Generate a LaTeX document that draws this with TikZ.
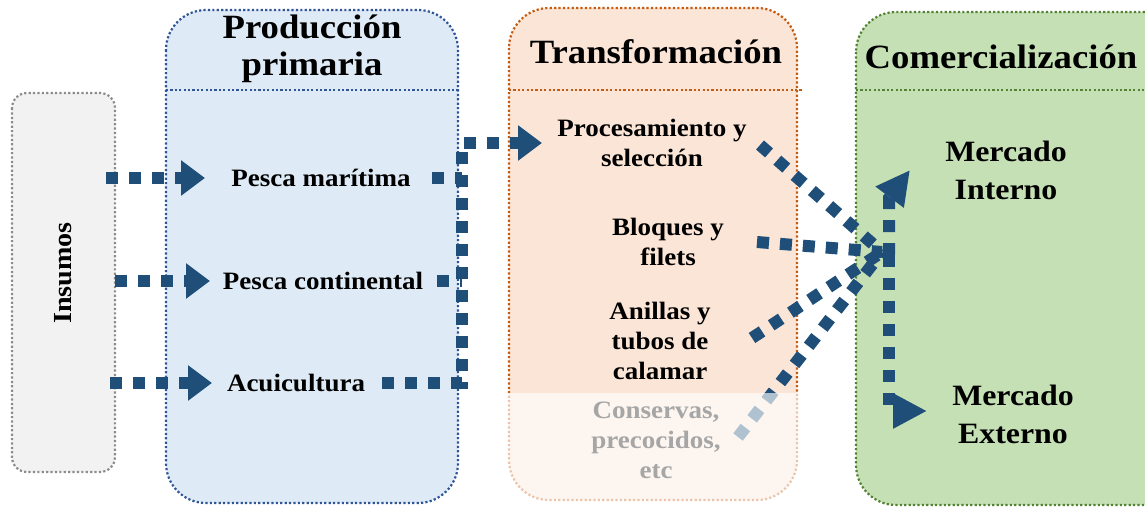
\documentclass[tikz,border=0pt]{standalone}
\usepackage{fontspec}
\setmainfont{Liberation Serif}[FakeStretch=1.08]
\usetikzlibrary{arrows.meta}
\definecolor{bfill}{HTML}{DEEBF7}
\definecolor{bline}{HTML}{2F5597}
\definecolor{ofill}{HTML}{FBE5D6}
\definecolor{oline}{HTML}{C55A11}
\definecolor{gfill}{HTML}{C5E0B4}
\definecolor{gline}{HTML}{548235}
\definecolor{sfill}{HTML}{F2F2F2}
\definecolor{sline}{HTML}{8C8C8C}
\definecolor{arrowc}{HTML}{1F4E79}
\tikzset{
  border/.style={line width=2.2pt, dash pattern=on 2.2pt off 2.2pt},
  arr/.style={line width=12pt, dash pattern=on 12pt off 11pt, draw=arrowc},
  tipS/.style={-{Triangle[length=24pt,width=34pt]}},
  tipL/.style={-{Triangle[length=34pt,width=33pt]}},
  head/.style={font=\bfseries\fontsize{34}{37}\selectfont, align=center, inner sep=0pt},
  item/.style={font=\bfseries\fontsize{25}{30}\selectfont, align=center, inner sep=0pt},
  market/.style={font=\bfseries\fontsize{29.5}{38}\selectfont, align=center, inner sep=0pt},
}
\begin{document}
\begin{tikzpicture}[x=1pt,y=-1pt]
\useasboundingbox (0,0) rectangle (1145,507);
\clip (0,0) rectangle (1145,507);
% boxes
\draw[border, draw=sline, fill=sfill, rounded corners=15pt] (12,93) rectangle (115,472);
\draw[border, draw=bline, fill=bfill, rounded corners=40pt] (166,10) rectangle (458,503);
\draw[border, draw=bline] (166,90) -- (460,90);
\draw[border, draw=oline, fill=ofill, rounded corners=40pt] (509,8) rectangle (797,500);
\draw[border, draw=oline] (509,90) -- (802,90);
\draw[border, draw=gline, fill=gfill, rounded corners=40pt] (856,12) rectangle (1200,505);
\draw[border, draw=gline] (856,90) -- (1145,90);
% headings
\node[head] (hpp) at (312,49) {Producción\\primaria};
\node[head] (htr) at (656,52) {Transformación};
\node[head] (hco) at (1001,57) {Comercialización};
\node[font=\bfseries\fontsize{26}{30}\selectfont, rotate=90, inner sep=0pt] (ins) at (63,273) {Insumos};
% items
\node[item] (pm) at (321,178) {Pesca marítima};
\node[item] (pc) at (323,281) {Pesca continental};
\node[item] (acu) at (296,383) {Acuicultura};
\node[item] (proc) at (652,143) {Procesamiento y\\selección};
\node[item] (blo) at (668,242) {Bloques y\\filets};
\node[item] (ani) at (660,341) {Anillas y\\tubos de\\calamar};
\node[item] (con) at (656,440) {Conservas,\\precocidos,\\etc};
\node[market] (mi) at (1006,170) {Mercado\\Interno};
\node[market] (me) at (1013,414) {Mercado\\Externo};
% coordinates
\coordinate (s1) at (106,178); \coordinate (e1) at (205,178);
\coordinate (s2) at (115,281); \coordinate (e2) at (210,281);
\coordinate (s3) at (110,383); \coordinate (e3) at (212,383);
\coordinate (pmo) at (432,178); \coordinate (pco) at (437,281); \coordinate (acuo) at (382,383);
\coordinate (v1) at (462,178); \coordinate (v2) at (462,281);
\coordinate (vt) at (462,143); \coordinate (procin) at (542,143);
\coordinate (proco) at (760,145);
\coordinate (bloo) at (757,242);
\coordinate (anio) at (752,338);
\coordinate (cono) at (738,437);
\coordinate (hub) at (882,252);
\coordinate (hv) at (889,255);
\coordinate (hvt) at (889,198);
\coordinate (mitip) at (910,170);
\coordinate (metip) at (927,411);
% arrows
\draw[arr, tipS] (s1) -- (e1);
\draw[arr, tipS] (s2) -- (e2);
\draw[arr, tipS] (s3) -- (e3);
\draw[arr] (pmo) -- (v1);
\draw[arr] (pco) -- (v2);
\draw[arr, tipS] (acuo) -| (vt) -- (procin);
\draw[arr] (proco) -- (hub);
\draw[arr] (bloo) -- (hub);
\draw[arr] (anio) -- (hub);
\draw[arr] (cono) -- (hub);
\draw[arr, tipL] (hv) -- (hvt) -- (mitip);
\draw[arr, tipL] (hv) |- (metip);
% fade overlay on lower part of Transformación
\fill[white, opacity=0.65] (503,393) rectangle (806,507);
\end{tikzpicture}
\end{document}
